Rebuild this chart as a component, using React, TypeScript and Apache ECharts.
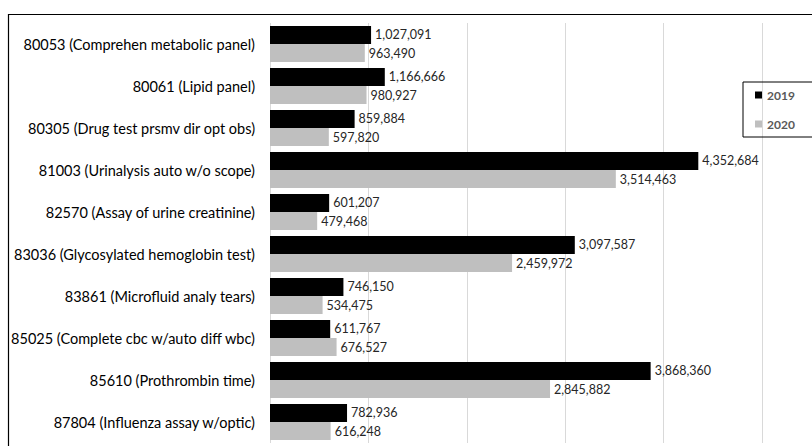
import React, { useEffect, useRef } from "react";
import * as echarts from "echarts";

const categories = [
  "80053 (Comprehen metabolic panel)",
  "80061 (Lipid panel)",
  "80305 (Drug test prsmv dir opt obs)",
  "81003 (Urinalysis auto w/o scope)",
  "82570 (Assay of urine creatinine)",
  "83036 (Glycosylated hemoglobin test)",
  "83861 (Microfluid analy tears)",
  "85025 (Complete cbc w/auto diff wbc)",
  "85610 (Prothrombin time)",
  "87804 (Influenza assay w/optic)",
];
const values2019 = [1027091, 1166666, 859884, 4352684, 601207, 3097587, 746150, 611767, 3868360, 782936];
const values2020 = [963490, 980927, 597820, 3514463, 479468, 2459972, 534475, 676527, 2845882, 616248];
const seriesNames = ["2019", "2020"];

export default function App() {
  const ref = useRef<HTMLDivElement>(null);
  useEffect(() => {
    document.body.style.margin = "0";
    const chart = echarts.init(ref.current!, undefined, { renderer: "svg" });
    const fmt = (p: any) => Number(p.value).toLocaleString("en-US");
    const labelStyle = {
      show: true,
      position: "right" as const,
      distance: 4,
      formatter: fmt,
      fontFamily: "Lato",
      fontSize: 12.5,
      color: "#262626",
    };
    chart.setOption({
      animation: false,
      backgroundColor: "#fff",
      grid: { left: 270, right: 50, top: 23, bottom: 3, containLabel: false },
      xAxis: {
        type: "value",
        min: 0,
        max: 5000000,
        interval: 1000000,
        axisLabel: { show: false },
        axisLine: { show: false },
        axisTick: { show: false },
        splitLine: { show: true, lineStyle: { color: "#d9d9d9", width: 1 } },
      },
      yAxis: {
        type: "category",
        data: categories,
        inverse: true,
        axisLine: { show: false },
        axisTick: { show: false },
        axisLabel: {
          fontFamily: "Lato",
          fontSize: 14.5,
          color: "#000",
          margin: 15,
        },
      },
      legend: {
        orient: "vertical",
        left: 743,
        top: 82,
        data: seriesNames,
        icon: "rect",
        itemWidth: 7,
        itemHeight: 7,
        itemGap: 17,
        itemStyle: { borderWidth: 0 },
        padding: [7, 20, 7, 12],
        borderColor: "#000",
        borderWidth: 1,
        textStyle: { fontFamily: "Lato", fontSize: 12, fontWeight: "bold", color: "#595959" },
      },
      graphic: [
        {
          type: "rect",
          left: 6,
          top: 12,
          shape: { width: 900, height: 600 },
          style: { fill: "none", stroke: "#000", lineWidth: 1.2 },
          silent: true,
        },
      ],
      series: [
        {
          name: seriesNames[0],
          type: "bar",
          data: values2019,
          barGap: "0%",
          barCategoryGap: "14%",
          itemStyle: { color: "#000" },
          label: labelStyle,
        },
        {
          name: seriesNames[1],
          type: "bar",
          data: values2020,
          barGap: "0%",
          barCategoryGap: "14%",
          itemStyle: { color: "#bfbfbf" },
          label: labelStyle,
        },
      ],
    });
    return () => chart.dispose();
  }, []);
  return <div ref={ref} style={{ width: 812, height: 446 }} />;
}
